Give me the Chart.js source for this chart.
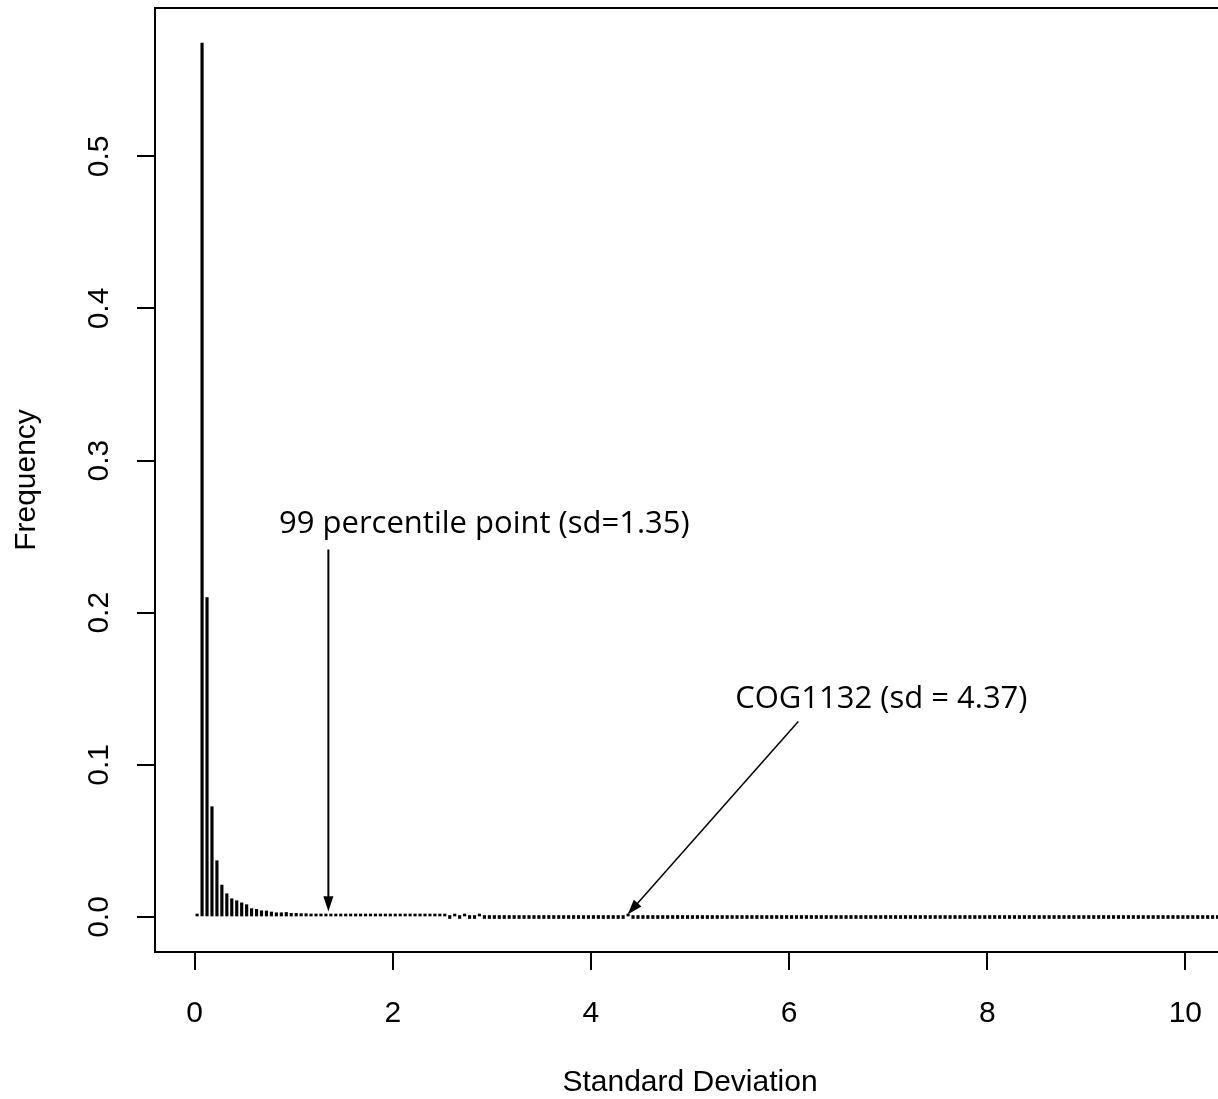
<!DOCTYPE html>
<html>
<head>
<meta charset="utf-8">
<title>Standard Deviation</title>
<script src="https://cdn.jsdelivr.net/npm/chart.js@4.4.1/dist/chart.umd.min.js"></script>
<style>
  html, body { margin: 0; padding: 0; background: #fff; overflow: hidden; }
  #wrap { position: relative; width: 1240px; height: 1099px; }
</style>
</head>
<body>
<div id="wrap"><canvas id="sdChart" width="1240" height="1099"></canvas></div>
<script>
// histogram of family standard deviations, bins 0.05 wide
const binStart = 0.025;
const binWidth = 0.05;
const frequency = [
  0.0012, 0.5745, 0.2100, 0.0725, 0.0370, 0.0210, 0.0153, 0.0120, 0.0107, 0.0093,
  0.0081, 0.0055, 0.0050, 0.0041, 0.0040, 0.0033, 0.0028, 0.0028, 0.0030, 0.0024,
  0.0024, 0.0022, 0.0022, 0.0020, 0.0016, 0.0019, 0.0014, 0.0012, 0.0012, 0.0010,
  0.0009, 0.0010, 0.0008, 0.0007, 0.0008, 0.0006, 0.0006, 0.0005, 0.0006, 0.0004,
  0.0004, 0.0005, 0.0003, 0.0004, 0.0003, 0.0003, 0.0002, 0.0003, 0.0002, 0.0002,
  0.0002, 0, 0.0002, 0, 0.0002, 0, 0, 0.0002, 0, 0,
  0, 0, 0, 0, 0, 0, 0, 0, 0, 0,
  0, 0, 0, 0, 0, 0, 0, 0, 0, 0,
  0, 0, 0, 0, 0, 0, 0, 0.0002, 0, 0,
  0, 0, 0, 0, 0, 0, 0, 0, 0, 0,
  0, 0, 0, 0, 0, 0, 0, 0, 0, 0,
  0, 0, 0, 0, 0, 0, 0, 0, 0, 0,
  0, 0, 0, 0, 0, 0, 0, 0, 0, 0,
  0, 0, 0, 0, 0, 0, 0, 0, 0, 0,
  0, 0, 0, 0, 0, 0, 0, 0, 0, 0,
  0, 0, 0, 0, 0, 0, 0, 0, 0, 0,
  0, 0, 0, 0, 0, 0, 0, 0, 0, 0,
  0, 0, 0, 0, 0, 0, 0, 0, 0, 0,
  0, 0, 0, 0, 0, 0, 0, 0, 0, 0,
  0, 0, 0, 0, 0, 0, 0, 0, 0, 0,
  0, 0, 0, 0, 0, 0, 0, 0
];
const xTicks = [0, 2, 4, 6, 8, 10];
const yTicks = [0, 0.1, 0.2, 0.3, 0.4, 0.5];
const xRange = [-0.4, 10.4];
const yRange = [-0.023, 0.5975];

// labelled arrows, in data units
const notes = [
  { text: '99 percentile point (sd=1.35)', textX: 0.852, textY: 0.2526, from: [1.35, 0.2415], to: [1.35, 0.0036], width: 2 },
  { text: 'COG1132 (sd = 4.37)', textX: 5.456, textY: 0.1376, from: [6.093, 0.1285], to: [4.37, 0.0016], width: 1.5 }
];

const points = frequency.map((f, i) => ({ x: binStart + i * binWidth, y: f }));

const axisFont = { family: '"Liberation Sans", Arial, sans-serif', size: 30 };
const titleFont = { family: '"Liberation Sans", Arial, sans-serif', size: 30, lineHeight: 1 };

function drawArrow(ctx, x1, y1, x2, y2, w) {
  const ang = Math.atan2(y2 - y1, x2 - x1);
  const head = 16;
  const spread = 0.32;
  ctx.lineWidth = w;
  ctx.beginPath();
  ctx.moveTo(x1, y1);
  ctx.lineTo(x2 - head * 0.8 * Math.cos(ang), y2 - head * 0.8 * Math.sin(ang));
  ctx.stroke();
  ctx.beginPath();
  ctx.moveTo(x2, y2);
  ctx.lineTo(x2 - head * Math.cos(ang - spread), y2 - head * Math.sin(ang - spread));
  ctx.lineTo(x2 - head * Math.cos(ang + spread), y2 - head * Math.sin(ang + spread));
  ctx.closePath();
  ctx.fill();
}

const frameAndNotes = {
  id: 'frameAndNotes',
  afterDatasetsDraw(chart) {
    const { ctx, chartArea: a, scales: { x, y } } = chart;
    ctx.save();
    ctx.strokeStyle = '#000';
    ctx.fillStyle = '#000';
    ctx.lineWidth = 2;
    ctx.strokeRect(a.left, a.top, a.right - a.left, a.bottom - a.top);

    ctx.font = '31px "Open Sans", sans-serif';
    ctx.textAlign = 'left';
    ctx.textBaseline = 'alphabetic';
    notes.forEach(n => {
      ctx.fillText(n.text, x.getPixelForValue(n.textX), y.getPixelForValue(n.textY));
      drawArrow(ctx,
        x.getPixelForValue(n.from[0]), y.getPixelForValue(n.from[1]),
        x.getPixelForValue(n.to[0]), y.getPixelForValue(n.to[1]), n.width);
    });
    ctx.restore();
  }
};

new Chart(document.getElementById('sdChart'), {
  type: 'bar',
  data: {
    datasets: [{
      data: points,
      backgroundColor: '#000',
      borderWidth: 0,
      barThickness: 2.5,
      minBarLength: 3
    }]
  },
  options: {
    responsive: false,
    animation: false,
    devicePixelRatio: 1,
    layout: { padding: { top: 8, right: 15, left: 0, bottom: 0 } },
    plugins: { legend: { display: false }, tooltip: { enabled: false } },
    scales: {
      x: {
        type: 'linear',
        offset: false,
        min: xRange[0],
        max: xRange[1],
        afterBuildTicks: s => { s.ticks = xTicks.map(v => ({ value: v })); },
        afterFit: s => { s.height = 147; s.paddingLeft = 0; s.paddingRight = 0; },
        border: { display: false },
        grid: { offset: false, drawOnChartArea: false, drawTicks: true, tickLength: 18, color: '#000', lineWidth: 2 },
        ticks: { font: axisFont, color: '#000', padding: 26, maxRotation: 0, autoSkip: false },
        title: { display: true, text: 'Standard Deviation', font: titleFont, color: '#000', padding: { top: 0, bottom: 1.5 } }
      },
      y: {
        min: yRange[0],
        max: yRange[1],
        afterBuildTicks: s => { s.ticks = yTicks.map(v => ({ value: v })); },
        afterFit: s => { s.width = 155; s.paddingTop = 0; s.paddingBottom = 0; },
        border: { display: false },
        grid: { drawOnChartArea: false, drawTicks: true, tickLength: 18, color: '#000', lineWidth: 2 },
        ticks: {
          font: axisFont, color: '#000', padding: 16, autoSkip: false,
          minRotation: 90, maxRotation: 90, crossAlign: 'center',
          callback: v => v.toFixed(1)
        },
        title: { display: true, text: 'Frequency', font: titleFont, color: '#000', padding: { top: 12, bottom: 0 } }
      }
    }
  },
  plugins: [frameAndNotes]
});
</script>
</body>
</html>
